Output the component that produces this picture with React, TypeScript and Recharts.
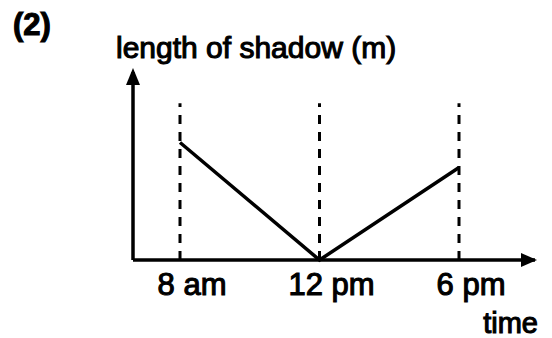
import { LineChart, Line, XAxis, YAxis, ReferenceLine } from "recharts";

const times = ["8 am", "12 pm", "6 pm"];
const shadowLength = [7.5, 0, 5.9];
const guideHeight = [10, 10, 10];

const data = times.map((t, i) => ({ time: t, shadow: shadowLength[i] }));

const FONT = "'Liberation Sans', Arial, sans-serif";
const textStyle = { fontFamily: FONT, fontSize: 29, fill: "#000", stroke: "#000", strokeWidth: 1.1 };

function TimeTick(props: any) {
  const { x, y, payload } = props;
  return (
    <text x={x + 12} y={y} dy={35} textAnchor="middle" style={{ ...textStyle, fontSize: 31 }}>
      {payload.value}
    </text>
  );
}

// arrow head on top of the y axis, plus the heading texts
function YArrow(props: any) {
  const { x, y, width } = props.viewBox;
  const ax = x + width;
  return (
    <g>
      <polygon points={`${ax},${y - 4} ${ax - 7},${y + 13} ${ax + 7},${y + 13}`} fill="#000" />
      <text x={ax - 17} y={y - 14} style={{ ...textStyle, fontSize: 30 }}>length of shadow (m)</text>
      <text x={ax - 120} y={y - 37} style={{ ...textStyle, fontSize: 31, fontWeight: 700 }}>(2)</text>
    </g>
  );
}

function XArrow(props: any) {
  const { x, y, width } = props.viewBox;
  const end = x + width;
  return (
    <g>
      <polygon points={`${end + 2},${y} ${end - 14},${y - 7} ${end - 14},${y + 7}`} fill="#000" />
      <text x={end + 3} y={y + 73} textAnchor="end" style={textStyle}>time</text>
    </g>
  );
}

export default function App() {
  return (
    <div style={{ position: "absolute", left: 0, top: 0, background: "#fff" }}>
      <LineChart width={552} height={338} data={data} margin={{ top: 72, right: 17, bottom: 48, left: 132 }}>
        <XAxis
          dataKey="time"
          type="category"
          padding={{ left: 47, right: 76 }}
          axisLine={{ stroke: "#000", strokeWidth: 3.5 }}
          tickLine={false}
          tickSize={0}
          tickMargin={0}
          tick={<TimeTick />}
          height={30}
          interval={0}
          label={<XArrow />}
        />
        <YAxis
          type="number"
          domain={[0, 12]}
          width={1}
          tick={false}
          tickLine={false}
          axisLine={{ stroke: "#000", strokeWidth: 3.5 }}
          label={<YArrow />}
        />
        {times.map((t, i) => (
          <ReferenceLine
            key={t}
            segment={[{ x: t, y: 0 }, { x: t, y: guideHeight[i] }]}
            stroke="#000"
            strokeWidth={3}
            strokeDasharray="9 8"
          />
        ))}
        <Line
          dataKey="shadow"
          stroke="#000"
          strokeWidth={3.5}
          dot={false}
          type="linear"
          isAnimationActive={false}
        />
      </LineChart>
    </div>
  );
}
